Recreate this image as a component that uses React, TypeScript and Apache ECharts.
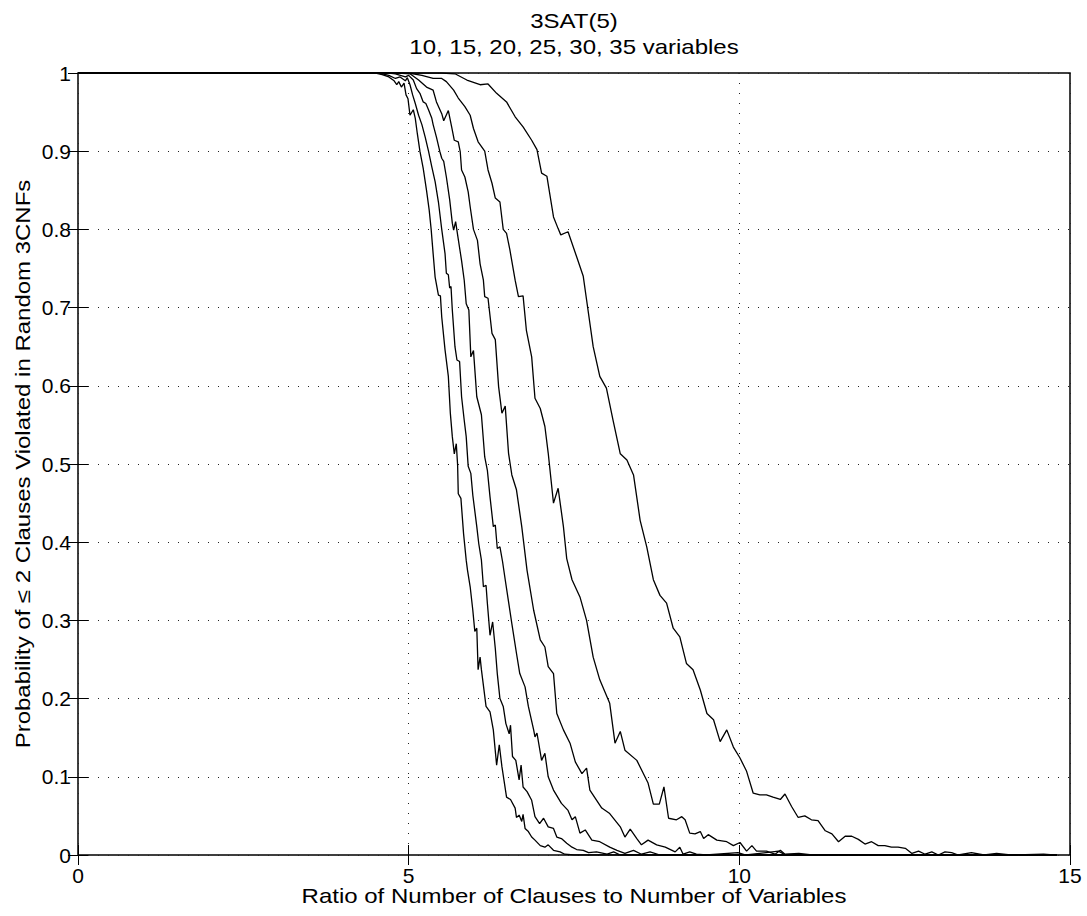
import React, { useEffect, useRef } from "react";
import * as echarts from "echarts";

// ---- data (x = clauses/variables ratio, y = probability) ----
const titleLines = ["3SAT(5)", "10, 15, 20, 25, 30, 35 variables"];
const xAxisName = "Ratio of Number of Clauses to Number of Variables";
const yAxisName = "Probability of \u2264 2 Clauses Violated in Random 3CNFs";
const xTicks = { min: 0, max: 15, step: 5 };
const yTicks = { min: 0, max: 1, step: 0.1 };

const vars35: [number, number][] = [
  [0, 1], [4.5, 1], [4.6, 0.998], [4.7, 0.995], [4.78, 0.99], [4.82, 0.985], [4.85, 0.989], [4.89, 0.982],
  [4.93, 0.987], [4.96, 0.972], [4.99, 0.967], [5.02, 0.946], [5.07, 0.953], [5.1, 0.942], [5.13, 0.923],
  [5.17, 0.9], [5.22, 0.878], [5.27, 0.85], [5.31, 0.825], [5.34, 0.8], [5.37, 0.769], [5.4, 0.739],
  [5.45, 0.716], [5.48, 0.715], [5.5, 0.688], [5.55, 0.646], [5.6, 0.612], [5.63, 0.565], [5.66, 0.535],
  [5.69, 0.513], [5.72, 0.526], [5.74, 0.499], [5.75, 0.462], [5.79, 0.456], [5.83, 0.411], [5.87, 0.377],
  [5.89, 0.364], [5.93, 0.343], [5.97, 0.313], [6.0, 0.286], [6.03, 0.29], [6.05, 0.237], [6.08, 0.253],
  [6.1, 0.237], [6.17, 0.19], [6.23, 0.183], [6.28, 0.16], [6.33, 0.115], [6.37, 0.141], [6.41, 0.113],
  [6.48, 0.074], [6.54, 0.071], [6.61, 0.06], [6.63, 0.048], [6.67, 0.051], [6.71, 0.043], [6.73, 0.052],
  [6.76, 0.034], [6.81, 0.03], [6.86, 0.023], [6.91, 0.019], [6.99, 0.012], [7.06, 0.01], [7.11, 0.013],
  [7.19, 0.006], [7.29, 0.004], [7.36, 0.001], [7.5, 0], [14.8, 0],
];

const vars30: [number, number][] = [
  [0, 1], [4.55, 1], [4.7, 0.997], [4.8, 0.993], [4.87, 0.995], [4.95, 0.99], [4.98, 0.994], [5.02, 0.985],
  [5.06, 0.972], [5.1, 0.961], [5.15, 0.946], [5.2, 0.934], [5.25, 0.918], [5.3, 0.9], [5.35, 0.88],
  [5.4, 0.861], [5.45, 0.835], [5.5, 0.8], [5.55, 0.769], [5.57, 0.744], [5.6, 0.742], [5.62, 0.725],
  [5.64, 0.727], [5.66, 0.697], [5.7, 0.65], [5.73, 0.633], [5.77, 0.631], [5.8, 0.586], [5.84, 0.556],
  [5.87, 0.535], [5.9, 0.497], [5.94, 0.488], [5.97, 0.46], [6.03, 0.42], [6.06, 0.398], [6.1, 0.377],
  [6.13, 0.343], [6.17, 0.345], [6.19, 0.322], [6.23, 0.281], [6.27, 0.298], [6.31, 0.264], [6.34, 0.232],
  [6.38, 0.2], [6.43, 0.19], [6.47, 0.168], [6.52, 0.155], [6.54, 0.166], [6.57, 0.126], [6.62, 0.121],
  [6.67, 0.096], [6.7, 0.115], [6.73, 0.087], [6.79, 0.081], [6.86, 0.07], [6.91, 0.049], [6.98, 0.04],
  [7.04, 0.047], [7.11, 0.036], [7.19, 0.034], [7.24, 0.023], [7.31, 0.021], [7.39, 0.015], [7.47, 0.01],
  [7.54, 0.007], [7.64, 0.006], [7.72, 0.003], [7.84, 0.004], [8.0, 0.001], [8.1, 0.004], [8.2, 0], [14.8, 0],
];

const vars25: [number, number][] = [
  [0, 1], [4.7, 1], [4.8, 0.999], [4.95, 0.995], [5.0, 0.997], [5.07, 0.991], [5.12, 0.98], [5.17, 0.974],
  [5.22, 0.963], [5.26, 0.961], [5.3, 0.953], [5.35, 0.942], [5.37, 0.934], [5.42, 0.918], [5.47, 0.9],
  [5.5, 0.891], [5.53, 0.887], [5.57, 0.867], [5.62, 0.838], [5.66, 0.808], [5.68, 0.799], [5.71, 0.81],
  [5.74, 0.793], [5.8, 0.76], [5.84, 0.735], [5.87, 0.705], [5.91, 0.697], [5.94, 0.637], [5.98, 0.645],
  [6.03, 0.586], [6.1, 0.563], [6.15, 0.509], [6.19, 0.492], [6.23, 0.458], [6.28, 0.42], [6.31, 0.422],
  [6.34, 0.392], [6.38, 0.394], [6.42, 0.375], [6.46, 0.352], [6.51, 0.324], [6.56, 0.296], [6.63, 0.258],
  [6.68, 0.232], [6.76, 0.215], [6.81, 0.19], [6.89, 0.16], [6.91, 0.151], [6.94, 0.156], [7.01, 0.121],
  [7.06, 0.13], [7.11, 0.1], [7.19, 0.083], [7.31, 0.066], [7.41, 0.057], [7.47, 0.045], [7.52, 0.049],
  [7.59, 0.028], [7.67, 0.032], [7.77, 0.019], [7.89, 0.017], [8.04, 0.01], [8.15, 0.006], [8.27, 0.002],
  [8.4, 0.006], [8.52, 0.001], [8.65, 0.004], [8.8, 0], [14.8, 0],
];

const vars20: [number, number][] = [
  [0, 1], [4.85, 1], [5.02, 0.999], [5.15, 0.991], [5.27, 0.982], [5.37, 0.978], [5.42, 0.963], [5.5, 0.948],
  [5.53, 0.939], [5.6, 0.952], [5.65, 0.931], [5.69, 0.914], [5.75, 0.912], [5.78, 0.899], [5.8, 0.876],
  [5.85, 0.867], [5.9, 0.848], [5.93, 0.829], [5.98, 0.8], [6.04, 0.786], [6.08, 0.756], [6.13, 0.735],
  [6.15, 0.714], [6.2, 0.712], [6.26, 0.667], [6.31, 0.659], [6.36, 0.599], [6.41, 0.565], [6.46, 0.574],
  [6.51, 0.514], [6.56, 0.486], [6.63, 0.467], [6.71, 0.42], [6.79, 0.364], [6.89, 0.313], [6.99, 0.275],
  [7.06, 0.266], [7.11, 0.241], [7.19, 0.232], [7.24, 0.181], [7.34, 0.16], [7.44, 0.143], [7.52, 0.119],
  [7.62, 0.104], [7.69, 0.111], [7.74, 0.083], [7.92, 0.06], [8.04, 0.053], [8.2, 0.036], [8.27, 0.023],
  [8.35, 0.033], [8.45, 0.021], [8.52, 0.013], [8.62, 0.019], [8.75, 0.013], [8.88, 0.01], [9.03, 0.004],
  [9.1, 0.01], [9.15, 0.001], [9.25, 0.004], [9.35, 0.001], [9.5, 0], [9.98, 0.003], [10.1, 0],
  [10.59, 0.005], [10.7, 0], [14.8, 0],
];

const vars15: [number, number][] = [
  [0, 1], [5.0, 1], [5.2, 0.997], [5.37, 0.993], [5.5, 0.993], [5.57, 0.989], [5.68, 0.978], [5.75, 0.968],
  [5.85, 0.957], [5.93, 0.946], [5.98, 0.929], [6.05, 0.912], [6.15, 0.9], [6.2, 0.876], [6.26, 0.859],
  [6.31, 0.84], [6.38, 0.835], [6.43, 0.8], [6.48, 0.795], [6.53, 0.774], [6.61, 0.735], [6.66, 0.714],
  [6.73, 0.715], [6.78, 0.671], [6.86, 0.637], [6.91, 0.584], [6.99, 0.571], [7.06, 0.548], [7.11, 0.514],
  [7.19, 0.45], [7.26, 0.469], [7.34, 0.42], [7.39, 0.379], [7.47, 0.352], [7.59, 0.33], [7.69, 0.3],
  [7.79, 0.253], [7.89, 0.224], [8.04, 0.194], [8.12, 0.143], [8.2, 0.158], [8.27, 0.134], [8.45, 0.121],
  [8.62, 0.092], [8.7, 0.065], [8.79, 0.065], [8.86, 0.087], [8.93, 0.047], [9.05, 0.045], [9.13, 0.049],
  [9.18, 0.045], [9.25, 0.028], [9.33, 0.027], [9.41, 0.03], [9.46, 0.021], [9.53, 0.026], [9.66, 0.019],
  [9.81, 0.017], [9.91, 0.012], [10.01, 0.016], [10.11, 0.005], [10.19, 0.012], [10.26, 0.005],
  [10.41, 0.005], [10.54, 0.001], [10.62, 0.006], [10.69, 0.001], [10.9, 0.002], [11.1, 0], [14.8, 0],
];

const vars10: [number, number][] = [
  [0, 1], [5.5, 1], [5.7, 0.999], [5.88, 0.991], [6.08, 0.985], [6.2, 0.986], [6.33, 0.974], [6.48, 0.963],
  [6.61, 0.944], [6.73, 0.931], [6.86, 0.914], [6.94, 0.902], [7.01, 0.872], [7.09, 0.868], [7.19, 0.816],
  [7.26, 0.801], [7.3, 0.793], [7.41, 0.797], [7.54, 0.765], [7.64, 0.74], [7.69, 0.71], [7.79, 0.65],
  [7.89, 0.612], [7.99, 0.597], [8.09, 0.556], [8.2, 0.513], [8.3, 0.505], [8.4, 0.486], [8.5, 0.428],
  [8.6, 0.394], [8.7, 0.352], [8.8, 0.332], [8.9, 0.322], [9.0, 0.29], [9.1, 0.279], [9.2, 0.245],
  [9.3, 0.237], [9.41, 0.211], [9.51, 0.181], [9.61, 0.173], [9.71, 0.145], [9.81, 0.16], [9.91, 0.138],
  [10.01, 0.124], [10.11, 0.107], [10.21, 0.079], [10.31, 0.077], [10.41, 0.077], [10.51, 0.074],
  [10.62, 0.071], [10.69, 0.078], [10.79, 0.062], [10.89, 0.048], [10.99, 0.05], [11.09, 0.045],
  [11.19, 0.044], [11.3, 0.031], [11.4, 0.027], [11.5, 0.017], [11.6, 0.024], [11.7, 0.024], [11.8, 0.02],
  [11.9, 0.014], [12.0, 0.017], [12.1, 0.012], [12.2, 0.012], [12.3, 0.01], [12.4, 0.01], [12.51, 0.0085],
  [12.61, 0.002], [12.71, 0.005], [12.81, 0.001], [12.91, 0.004], [13.01, 0], [13.11, 0.004], [13.21, 0.003],
  [13.31, 0], [13.51, 0.003], [13.7, 0], [13.89, 0.002], [14.1, 0], [14.6, 0.001], [14.75, 0],
];

const seriesList: { name: string; data: [number, number][] }[] = [
  { name: "35 variables", data: vars35 },
  { name: "30 variables", data: vars30 },
  { name: "25 variables", data: vars25 },
  { name: "20 variables", data: vars20 },
  { name: "15 variables", data: vars15 },
  { name: "10 variables", data: vars10 },
];

const FONT = '"Liberation Sans", Arial, Helvetica, sans-serif';

export default function App() {
  const ref = useRef<HTMLDivElement | null>(null);

  useEffect(() => {
    if (!ref.current) return;
    const chart = echarts.init(ref.current, undefined, { renderer: "svg" });
    const W = 1087;
    const H = 916;
    const left = 78, right = 1070, top = 73, bottom = 855;
    const cx = (left + right) / 2;
    const cy = (top + bottom) / 2;
    const stretch = 1.2;

    const tickCommon = { inside: true, length: 10, lineStyle: { color: "#000", width: 1 } };
    const gridLine = { show: true, lineStyle: { color: "#222", width: 1, type: [1, 9] as any } };

    chart.setOption({
      animation: false,
      backgroundColor: "#fff",
      grid: {
        left,
        right: W - right,
        top,
        bottom: H - bottom,
        show: true,
        borderColor: "#000",
        borderWidth: 1.5,
        backgroundColor: "transparent",
      },
      xAxis: [
        {
          type: "value",
          min: xTicks.min,
          max: xTicks.max,
          interval: xTicks.step,
          position: "bottom",
          axisLine: { show: false },
          axisTick: tickCommon,
          axisLabel: { fontSize: 21, color: "#000", fontFamily: FONT, margin: 10 },
          splitLine: gridLine,
        },
        {
          type: "value",
          min: xTicks.min,
          max: xTicks.max,
          interval: xTicks.step,
          position: "top",
          axisLine: { show: false },
          axisTick: tickCommon,
          axisLabel: { show: false },
          splitLine: { show: false },
        },
      ],
      yAxis: [
        {
          type: "value",
          min: yTicks.min,
          max: yTicks.max,
          interval: yTicks.step,
          position: "left",
          axisLine: { show: false },
          axisTick: tickCommon,
          axisLabel: { fontSize: 21, color: "#000", fontFamily: FONT, margin: 7 },
          splitLine: gridLine,
        },
        {
          type: "value",
          min: yTicks.min,
          max: yTicks.max,
          interval: yTicks.step,
          position: "right",
          axisLine: { show: false },
          axisTick: tickCommon,
          axisLabel: { show: false },
          splitLine: { show: false },
        },
      ],
      series: seriesList.map((s) => ({
        name: s.name,
        type: "line",
        xAxisIndex: 0,
        yAxisIndex: 0,
        data: s.data,
        showSymbol: false,
        symbol: "none",
        lineStyle: { color: "#000", width: 1.3 },
        silent: true,
      })),
      graphic: [
        {
          type: "text",
          x: cx,
          y: 21,
          scaleX: stretch,
          style: { text: titleLines[0], font: `20px ${FONT}`, fill: "#000", textAlign: "center", textVerticalAlign: "middle" },
        },
        {
          type: "text",
          x: cx,
          y: 47.5,
          scaleX: stretch,
          style: { text: titleLines[1], font: `20px ${FONT}`, fill: "#000", textAlign: "center", textVerticalAlign: "middle" },
        },
        {
          type: "text",
          x: cx,
          y: 896,
          scaleX: stretch,
          style: { text: xAxisName, font: `20px ${FONT}`, fill: "#000", textAlign: "center", textVerticalAlign: "middle" },
        },
        {
          type: "text",
          x: 23,
          y: cy,
          rotation: Math.PI / 2,
          scaleX: stretch,
          style: { text: yAxisName, font: `20px ${FONT}`, fill: "#000", textAlign: "center", textVerticalAlign: "middle" },
        },
      ],
    });

    return () => chart.dispose();
  }, []);

  return (
    <div
      ref={ref}
      style={{ position: "fixed", left: 0, top: 0, width: 1087, height: 916, background: "#fff" }}
    />
  );
}
